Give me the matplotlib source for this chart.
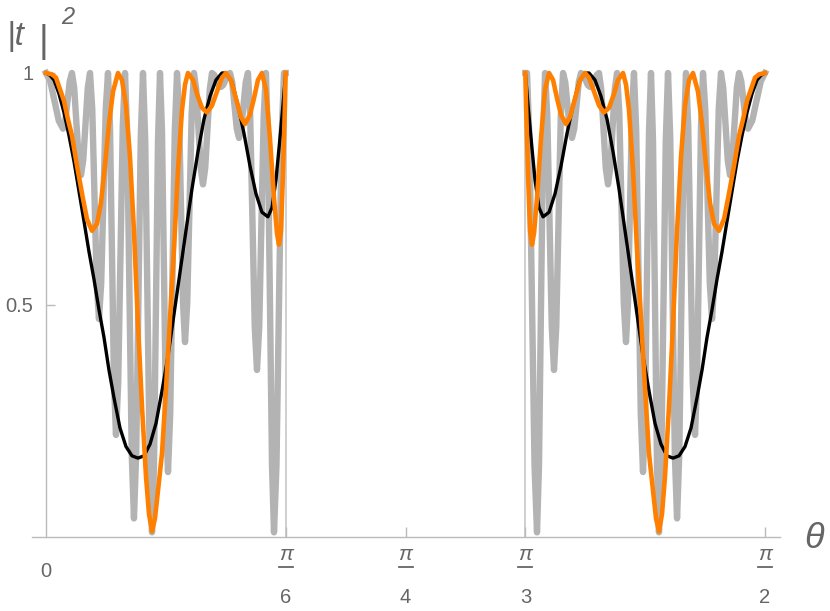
import numpy as np
import matplotlib
matplotlib.use('Agg')
import matplotlib.pyplot as plt

plt.rcParams['font.family'] = ['Liberation Sans', 'DejaVu Sans']

# left half of the curves (theta in degrees, 0..30); the right half (60..90) is its mirror image
gray_deg = [0.0, 0.53, 1.60, 2.13, 2.41, 2.97, 3.25, 3.53, 4.10, 4.38, 4.66, 5.23, 5.51,
            5.79, 6.35, 6.63, 6.91, 7.48, 7.76, 8.01, 8.51, 8.76, 9.04, 9.61, 9.89,
            10.17, 10.73, 11.01, 11.29, 11.86, 12.14, 12.42, 12.99, 13.27, 13.52, 14.02, 14.27,
            14.52, 15.02, 15.27, 15.55, 16.12, 16.40, 16.65, 17.15, 17.40, 17.68, 18.24, 18.52,
            18.80, 19.37, 19.65, 19.93, 20.50, 20.78, 21.06, 21.62, 21.90, 22.18, 22.75, 23.03,
            23.31, 23.88, 24.16, 24.44, 25.00, 25.28, 25.56, 26.13, 26.41, 26.69, 27.25, 27.53,
            27.78, 28.29, 28.54, 28.85, 29.48, 29.79, 30.0]
gray_val = [1.0, 0.982, 0.897, 0.88, 0.897, 0.982, 1.0, 0.968, 0.812, 0.78, 0.812, 0.968, 1.0,
            0.923, 0.547, 0.47, 0.547, 0.923, 1.0, 0.886, 0.334, 0.22, 0.334, 0.886, 1.0,
            0.860, 0.180, 0.04, 0.180, 0.860, 1.0, 0.855, 0.155, 0.01, 0.155, 0.855, 1.0,
            0.874, 0.266, 0.14, 0.266, 0.874, 1.0, 0.915, 0.505, 0.42, 0.505, 0.915, 1.0,
            0.965, 0.795, 0.76, 0.795, 0.965, 1.0, 0.996, 0.974, 0.97, 0.974, 0.996, 1.0,
            0.980, 0.880, 0.86, 0.880, 0.980, 1.0, 0.907, 0.453, 0.36, 0.453, 0.907, 1.0,
            0.855, 0.155, 0.01, 0.155, 0.855, 1.0, 1.0]

black_deg = [0.0, 0.5, 1.0, 1.63, 2.25, 2.88, 3.5, 4.13, 4.76, 5.38, 6.01, 6.63, 7.26, 7.88,
             8.51, 9.26, 10.01, 10.76, 11.51, 12.27, 13.02, 13.77, 14.52, 15.27, 16.02,
             16.77, 17.52, 18.27, 19.02, 19.77, 20.53, 21.28, 22.03, 22.53, 23.28, 24.03,
             24.78, 25.53, 26.28, 27.03, 27.78, 28.29, 28.79, 29.29, 29.66, 30.0]
black_val = [1.0, 0.995, 0.985, 0.955, 0.915, 0.865, 0.81, 0.745, 0.68, 0.615, 0.555, 0.49,
             0.43, 0.36, 0.30, 0.235, 0.195, 0.175, 0.17, 0.175, 0.20, 0.245, 0.315, 0.39,
             0.48, 0.57, 0.66, 0.75, 0.83, 0.90, 0.95, 0.985, 1.0, 1.0, 0.98, 0.93, 0.87,
             0.80, 0.74, 0.70, 0.69, 0.71, 0.77, 0.86, 0.93, 1.0]

orange_deg = [0.0, 0.75, 1.25, 1.75, 2.25, 2.75, 3.25, 3.88, 4.51, 5.13, 5.76, 6.38, 6.88,
              7.38, 7.88, 8.39, 9.01, 9.51, 10.01, 10.51, 11.01, 11.51, 12.02, 12.52, 12.89,
              13.27, 13.64, 14.02, 14.52, 15.02, 15.52, 16.02, 16.52, 17.02, 17.40, 17.77,
              18.40, 18.90, 19.52, 20.15, 20.78, 21.40, 22.03, 22.53, 23.15, 23.78, 24.41,
              24.91, 25.53, 26.03, 26.53, 27.03, 27.53, 28.03, 28.54, 28.91, 29.16, 29.41,
              29.66, 29.91, 30.0]
orange_val = [1.0, 0.997, 0.99, 0.965, 0.94, 0.90, 0.865, 0.80, 0.74, 0.685, 0.66, 0.675,
              0.72, 0.80, 0.89, 0.96, 1.0, 0.985, 0.93, 0.82, 0.66, 0.46, 0.28, 0.13, 0.05,
              0.012, 0.04, 0.10, 0.18, 0.32, 0.47, 0.62, 0.79, 0.92, 0.975, 1.0,
              0.985, 0.955, 0.925, 0.915, 0.93, 0.96, 0.99, 1.0, 0.985, 0.945, 0.905,
              0.89, 0.91, 0.945, 0.985, 1.0, 0.965, 0.86, 0.73, 0.655, 0.63, 0.66,
              0.78, 0.93, 1.0]

xtick_pos = [np.pi / 6, np.pi / 4, np.pi / 3, np.pi / 2]
xtick_den = ['6', '4', '3', '2']

AXIS_GRAY = '#bbbbbb'
TEXT_GRAY = '#666666'

fig = plt.figure(figsize=(8.3, 6.11), dpi=100)
W, H = 830, 611
# axes box in pixels: x from 32 to 780, y from 73 (top) to 537 (bottom)
ax = fig.add_axes([32 / W, (H - 537) / H, (780 - 32) / W, (537 - 73) / H])

px_per_rad = 719 / (np.pi / 2)
ax.set_xlim(-14 / px_per_rad, 734 / px_per_rad)
ax.set_ylim(0, 1)


def draw(deg, val, color, lw, z):
    t = np.deg2rad(deg)
    v = np.array(val)
    ax.plot(t, v, color=color, lw=lw, zorder=z, clip_on=False, solid_joinstyle='round')
    ax.plot(np.pi / 2 - t, v, color=color, lw=lw, zorder=z, clip_on=False, solid_joinstyle='round')


# thin boundary lines at pi/6 and pi/3
ax.vlines([np.pi / 6, np.pi / 3], 0, 1, color='#cccccc', lw=1.3, zorder=1)

draw(gray_deg, gray_val, '#b3b3b3', 4.6, 2)
draw(black_deg, black_val, 'black', 2.4, 3)
draw(orange_deg, orange_val, '#ff8000', 3.3, 4)

for s in ['top', 'right']:
    ax.spines[s].set_visible(False)
ax.spines['left'].set_position(('data', 0))
ax.spines['left'].set_bounds(0, 1)
for s in ['left', 'bottom']:
    ax.spines[s].set_color(AXIS_GRAY)
    ax.spines[s].set_linewidth(1.0)

ax.set_yticks([0.5, 1])
ax.set_yticklabels(['0.5', '1'])
ax.tick_params(axis='y', direction='in', length=6.5, width=1, color=AXIS_GRAY,
               labelcolor=TEXT_GRAY, labelsize=14.5, pad=9)
ax.set_xticks(xtick_pos)
ax.set_xticklabels([''] * len(xtick_pos))
ax.tick_params(axis='x', direction='in', length=7, width=1, color=AXIS_GRAY)

tr = ax.get_xaxis_transform()
ax.text(0, -0.0754, '0', transform=tr, ha='center', va='center', color=TEXT_GRAY, fontsize=14.5)
half_bar = 7 / px_per_rad
for x, d in zip(xtick_pos, xtick_den):
    ax.text(x, -0.038, 'π', transform=tr, ha='center', va='center', color=TEXT_GRAY,
            fontsize=15, style='italic')
    ax.plot([x - half_bar, x + half_bar], [-0.0647, -0.0647], transform=tr, color=TEXT_GRAY,
            lw=1.3, clip_on=False)
    ax.text(x, -0.131, d, transform=tr, ha='center', va='center', color=TEXT_GRAY, fontsize=14.5)

fig.text(814 / W, 1 - 538 / H, 'θ', ha='center', va='center', color=TEXT_GRAY,
         fontsize=26, style='italic')
fig.text(7 / W, 1 - 36 / H, '|t', ha='left', va='center', color=TEXT_GRAY,
         fontsize=24, style='italic')
fig.text(43 / W, 1 - 42 / H, '|', ha='center', va='center', color=TEXT_GRAY, fontsize=27)
fig.text(68 / W, 1 - 17 / H, '2', ha='center', va='center', color=TEXT_GRAY,
         fontsize=17, style='italic')

fig.savefig('out.png', dpi=100)
